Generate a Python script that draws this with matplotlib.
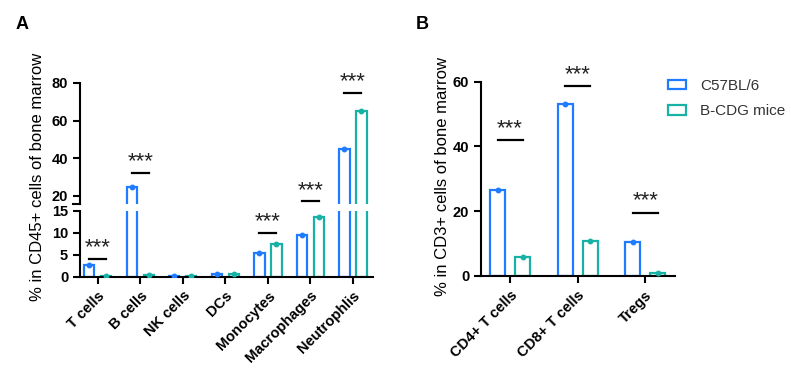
import matplotlib
matplotlib.use("Agg")
import matplotlib.pyplot as plt
from matplotlib.patches import Patch
import numpy as np

plt.rcParams['font.family'] = ['Liberation Sans', 'DejaVu Sans']

# panel A data
cells_a = ['T cells', 'B cells', 'NK cells', 'DCs', 'Monocytes', 'Macrophages', 'Neutrophlis']
c57_a = [2.6, 24.6, 0.1, 0.5, 5.3, 9.5, 45.0]
bcdg_a = [0.1, 0.4, 0.1, 0.5, 7.4, 13.6, 65.3]
sig_groups_a = [0, 1, 4, 5, 6]
sig_heights_a = [4.0, 32.0, 10.0, 17.0, 74.8]

# panel B data
cells_b = ['CD4+ T cells', 'CD8+ T cells', 'Tregs']
c57_b = [26.7, 53.0, 10.6]
bcdg_b = [6.0, 10.9, 0.8]
sig_heights_b = [42.0, 58.7, 19.5]

series = ['C57BL/6', 'B-CDG mice']
blue = '#1f7bff'
teal = '#17b1a6'

fig = plt.figure(figsize=(7.91, 3.72), dpi=100)

ax_top = fig.add_axes([0.1011, 0.4516, 0.3704, 0.3253])
ax_bot = fig.add_axes([0.1011, 0.2562, 0.3704, 0.1774])
ax_b = fig.add_axes([0.6081, 0.2581, 0.2453, 0.5223])


def draw_bars(ax, vals1, vals2, off, w):
    x = np.arange(len(vals1))
    ax.bar(x - off, vals1, w, facecolor='none', edgecolor=blue, linewidth=1.6)
    ax.bar(x + off, vals2, w, facecolor='none', edgecolor=teal, linewidth=1.6)
    ax.plot(x - off, vals1, 'o', ms=3.2, color=blue, zorder=5)
    ax.plot(x + off, vals2, 'o', ms=3.2, color=teal, zorder=5)


def sig(ax, x, y, off, gap):
    ax.plot([x - off, x + off], [y, y], color='black', lw=1.6, clip_on=False)
    ax.text(x, y + gap, '***', ha='center', va='center', fontsize=16,
            color='#222222', clip_on=False)


def style(ax):
    for s in ['top', 'right']:
        ax.spines[s].set_visible(False)
    for s in ['left', 'bottom']:
        ax.spines[s].set_linewidth(1.5)
    ax.tick_params(width=1.5, length=5, labelsize=10.5)
    for lab in ax.get_yticklabels():
        lab.set_fontweight('bold')


# panel A, broken axis
for ax in (ax_top, ax_bot):
    draw_bars(ax, c57_a, bcdg_a, 0.2, 0.24)
    ax.set_xlim(-0.42, 6.47)
    style(ax)

ax_top.set_ylim(15.5, 80)
ax_top.set_yticks([20, 40, 60, 80])
ax_top.spines['bottom'].set_visible(False)
ax_top.set_xticks([])
ax_top.plot([-0.025, 0], [0, 0], transform=ax_top.transAxes, color='black',
            lw=1.5, clip_on=False)

ax_bot.set_ylim(0, 15)
ax_bot.set_yticks([0, 5, 10, 15])
ax_bot.set_xticks(np.arange(len(cells_a)))
ax_bot.set_xticklabels(cells_a, rotation=45, ha='right', rotation_mode='anchor',
                       fontweight='bold')
style(ax_bot)

for g, h in zip(sig_groups_a, sig_heights_a):
    if h < 15:
        sig(ax_bot, g, h, 0.2, 2.6)
    else:
        sig(ax_top, g, h, 0.2, 5.8)

fig.text(0.047, 0.525, '% in CD45+ cells of bone marrow', rotation=90,
         ha='center', va='center', fontsize=12)

# panel B
draw_bars(ax_b, c57_b, bcdg_b, 0.185, 0.22)
ax_b.set_xlim(-0.43, 2.44)
ax_b.set_ylim(0, 60)
ax_b.set_yticks([0, 20, 40, 60])
ax_b.set_xticks(np.arange(len(cells_b)))
ax_b.set_xticklabels(cells_b, rotation=45, ha='right', rotation_mode='anchor',
                     fontweight='bold')
style(ax_b)
for g, h in enumerate(sig_heights_b):
    sig(ax_b, g, h, 0.185, 3.6)

fig.text(0.559, 0.525, '% in CD3+ cells of bone marrow', rotation=90,
         ha='center', va='center', fontsize=12)

# legend
handles = [Patch(facecolor='white', edgecolor=blue, linewidth=1.6),
           Patch(facecolor='white', edgecolor=teal, linewidth=1.6)]
fig.legend(handles, series, loc='upper left', bbox_to_anchor=(0.827, 0.825),
           frameon=False, fontsize=11, handlelength=1.2, handleheight=0.6,
           labelspacing=0.75, handletextpad=0.9, labelcolor='#333333')

fig.text(0.028, 0.935, 'A', fontsize=13, fontweight='bold', ha='center', va='center')
fig.text(0.534, 0.935, 'B', fontsize=13, fontweight='bold', ha='center', va='center')

fig.savefig('out.png', dpi=100)
